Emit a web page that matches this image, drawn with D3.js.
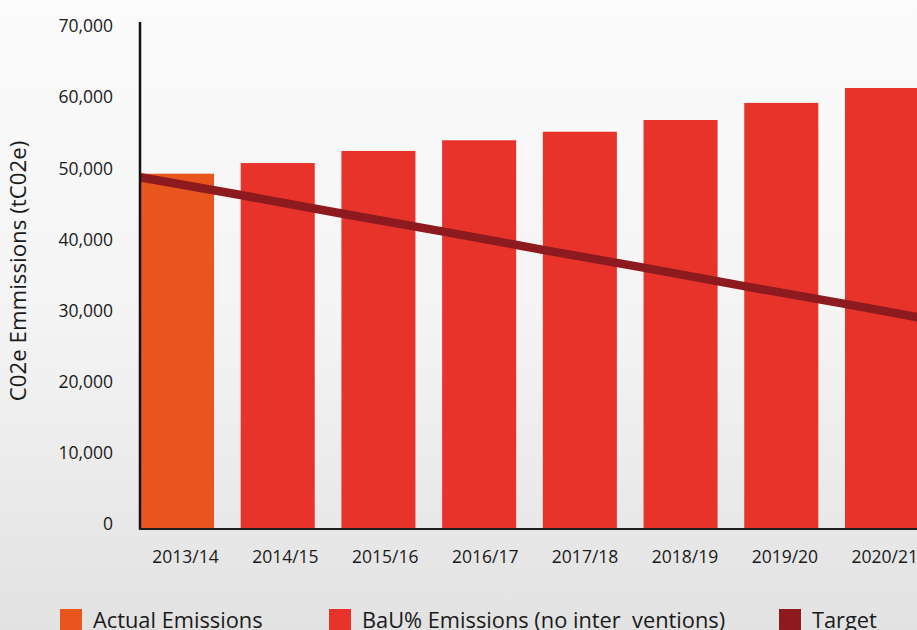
<!DOCTYPE html>
<html>
<head>
<meta charset="utf-8">
<script src="https://cdn.jsdelivr.net/npm/d3@7"></script>
<style>
  html, body { margin: 0; padding: 0; overflow: hidden; }
  svg { display: block; font-family: "Open Sans", "Noto Sans", sans-serif; }
</style>
</head>
<body>
<svg id="chart" width="917" height="630"></svg>
<script>
// Financial years on the x axis
const years = ["2013/14", "2014/15", "2015/16", "2016/17", "2017/18", "2018/19", "2019/20", "2020/21"];
// Emissions per year, tCO2e (first year is actual, the rest business-as-usual)
const emissions = [49800, 51300, 53000, 54500, 55700, 57350, 59750, 61850];
const seriesKind = ["actual", "bau", "bau", "bau", "bau", "bau", "bau", "bau"];
// Target trajectory at each year boundary (start of 2013/14 … end of 2020/21)
const target = [49300, 46800, 44200, 41700, 39100, 36600, 34000, 31500, 28900];
// Y axis ticks
const yTicks = [0, 10000, 20000, 30000, 40000, 50000, 60000, 70000];
// Legend entries
const legendLabels = ["Actual Emissions", "BaU% Emissions (no inter  ventions)", "Target"];

const colors = { actual: "#e9561d", bau: "#e8332b", target: "#8c1a1f" };

const svg = d3.select("#chart");
const W = 917, H = 630;

// Background wash
const defs = svg.append("defs");
const grad = defs.append("linearGradient").attr("id", "bg").attr("x1", 0).attr("y1", 0).attr("x2", 0).attr("y2", 1);
grad.append("stop").attr("offset", "0%").attr("stop-color", "#fbfbfb");
grad.append("stop").attr("offset", "50%").attr("stop-color", "#f4f4f4");
grad.append("stop").attr("offset", "100%").attr("stop-color", "#e2e2e2");
svg.append("rect").attr("width", W).attr("height", H).attr("fill", "url(#bg)");

const x = d3.scaleBand().domain(years).range([140, 919]).paddingInner(0.265).paddingOuter(0);
// Category labels sit on their own slightly tighter spacing
const xLabel = d3.scalePoint().domain(years).range([185.5, 884.8]);
const y = d3.scaleLinear().domain([0, 70000]).range([528, 30]);

// Bars
svg.append("g").selectAll("rect")
  .data(years)
  .join("rect")
  .attr("x", d => x(d))
  .attr("width", x.bandwidth())
  .attr("y", (d, i) => y(emissions[i]))
  .attr("height", (d, i) => y(0) - y(emissions[i]))
  .attr("fill", (d, i) => colors[seriesKind[i]]);

// Target line through the year boundaries
const boundaryX = target.map((v, i) => i < years.length ? x(years[i]) : x(years[years.length - 1]) + x.step());
const line = d3.line().x((d, i) => boundaryX[i]).y(d => y(d));
svg.append("path")
  .datum(target)
  .attr("d", line)
  .attr("fill", "none")
  .attr("stroke", colors.target)
  .attr("stroke-width", 8.5);

// Axes lines
svg.append("line").attr("x1", 140).attr("x2", 140).attr("y1", y(70000) - 8).attr("y2", 529.5)
  .attr("stroke", "#111").attr("stroke-width", 2.5);
svg.append("line").attr("x1", 139).attr("x2", W).attr("y1", 529).attr("y2", 529)
  .attr("stroke", "#1e1e1e").attr("stroke-width", 2.2);

// Y tick labels
const fmt = d3.format(",");
svg.append("g").selectAll("text")
  .data(yTicks)
  .join("text")
  .attr("x", 113)
  .attr("y", d => y(d) - 4)
  .attr("dy", "0.36em")
  .attr("text-anchor", "end")
  .attr("font-size", 17.5)
  .attr("fill", "#1a1a1a")
  .text(d => fmt(d));

// X category labels
svg.append("g").selectAll("text")
  .data(years)
  .join("text")
  .attr("x", d => xLabel(d))
  .attr("y", 557)
  .attr("dy", "0.36em")
  .attr("text-anchor", "middle")
  .attr("font-size", 17.5)
  .attr("fill", "#1a1a1a")
  .text(d => d);

// Y axis title
svg.append("text")
  .attr("transform", "translate(26,271) rotate(-90)")
  .attr("text-anchor", "middle")
  .attr("font-size", 22.3)
  .attr("fill", "#1a1a1a")
  .text("C02e Emmissions (tC02e)");

// Legend
const legendX = [60, 329, 779];
const legendColors = [colors.actual, colors.bau, colors.target];
const lg = svg.append("g").selectAll("g")
  .data(legendLabels)
  .join("g")
  .attr("transform", (d, i) => `translate(${legendX[i]},609)`);
lg.append("rect").attr("width", 22).attr("height", 24).attr("fill", (d, i) => legendColors[i]);
lg.append("text")
  .attr("x", 33)
  .attr("y", 18.5)
  .attr("font-size", 21.8)
  .attr("fill", "#1a1a1a")
  .style("white-space", "pre")
  .text(d => d);
</script>
</body>
</html>
